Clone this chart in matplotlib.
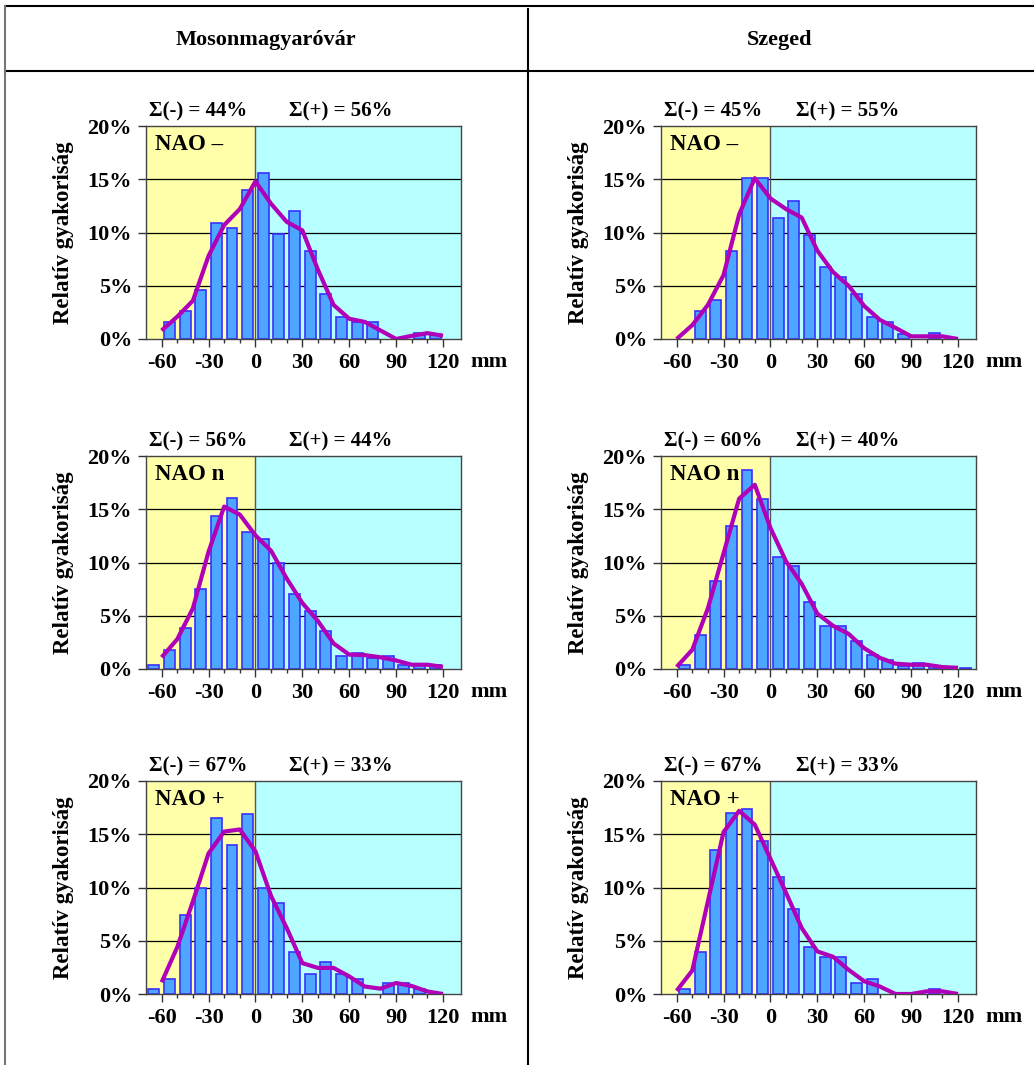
import matplotlib
matplotlib.use('Agg')
import matplotlib.pyplot as plt
from matplotlib.lines import Line2D


# Histogram bins (centre of each 10 mm class) and nodes of the smoothed curve
bin_centres = [-65, -55, -45, -35, -25, -15, -5, 5, 15, 25,
               35, 45, 55, 65, 75, 85, 95, 105, 115, 125]
curve_x = [-60, -50, -40, -30, -20, -10, 0, 10, 20, 30,
           40, 50, 60, 70, 80, 90, 100, 110, 120]

# Relative frequencies (%) - Mosonmagyaróvár
moson_minus_bars = [0, 1.6, 2.65, 4.6, 10.9, 10.4, 14.0, 15.6, 9.9, 12.0,
                    8.3, 4.25, 2.1, 1.6, 1.6, 0, 0, 0.55, 0.5, 0]
moson_minus_curve = [0.8, 2.1, 3.6, 7.8, 10.7, 12.2, 14.8, 12.7, 11.0, 10.2,
                     6.5, 3.2, 1.9, 1.6, 0.8, 0.0, 0.3, 0.55, 0.3]
moson_n_bars = [0.4, 1.75, 3.85, 7.5, 14.4, 16.1, 12.9, 12.2, 10.0, 7.0,
                5.4, 3.6, 1.2, 1.5, 1.05, 1.2, 0.4, 0.4, 0.4, 0]
moson_n_curve = [1.1, 2.8, 5.7, 11.0, 15.25, 14.5, 12.55, 11.1, 8.5, 6.2,
                 4.5, 2.4, 1.35, 1.3, 1.1, 0.8, 0.4, 0.4, 0.2]
moson_plus_bars = [0.47, 1.4, 7.44, 9.97, 16.5, 14.0, 16.9, 9.97, 8.5, 3.9,
                   1.9, 3.0, 1.9, 1.4, 0, 1.03, 1.03, 0.47, 0, 0]
moson_plus_curve = [1.1, 4.4, 8.7, 13.2, 15.25, 15.45, 13.4, 9.2, 6.2, 2.9,
                    2.45, 2.45, 1.65, 0.7, 0.5, 1.03, 0.75, 0.24, 0.0]

# Relative frequencies (%) - Szeged
szeged_minus_bars = [0, 0, 2.6, 3.7, 8.3, 15.1, 15.1, 11.4, 13.0, 9.8,
                     6.8, 5.8, 4.2, 2.1, 1.6, 0.5, 0, 0.55, 0, 0]
szeged_minus_curve = [0.0, 1.3, 3.2, 6.0, 11.7, 15.1, 13.2, 12.2, 11.4, 8.3,
                      6.3, 5.0, 3.1, 1.8, 1.05, 0.25, 0.25, 0.25, 0.0]
szeged_n_bars = [0, 0.4, 3.15, 8.3, 13.4, 18.65, 16.0, 10.5, 9.7, 6.3,
                 4.06, 4.06, 2.6, 1.3, 0.8, 0.25, 0.53, 0.25, 0.1, 0.12]
szeged_n_curve = [0.2, 1.8, 5.7, 10.85, 16.0, 17.3, 13.25, 10.1, 8.0, 5.2,
                  4.06, 3.3, 1.95, 1.05, 0.5, 0.4, 0.4, 0.18, 0.11]
szeged_plus_bars = [0, 0.5, 3.94, 13.5, 16.97, 17.4, 14.4, 11.0, 8.0, 4.44,
                    3.5, 3.5, 1.03, 1.4, 0, 0, 0, 0.5, 0, 0]
szeged_plus_curve = [0.3, 2.2, 8.7, 15.2, 17.2, 15.9, 12.7, 9.5, 6.2, 4.0,
                     3.5, 2.27, 1.2, 0.7, 0.0, 0.0, 0.25, 0.25, 0.0]

stations = ['Mosonmagyaróvár', 'Szeged']
phases = ['NAO –', 'NAO n', 'NAO +']
sum_minus = [[44, 56, 67], [45, 60, 67]]
sum_plus = [[56, 44, 33], [55, 40, 33]]
bars = [[moson_minus_bars, moson_n_bars, moson_plus_bars],
        [szeged_minus_bars, szeged_n_bars, szeged_plus_bars]]
curves = [[moson_minus_curve, moson_n_curve, moson_plus_curve],
          [szeged_minus_curve, szeged_n_curve, szeged_plus_curve]]

y_ticks = [0, 5, 10, 15, 20]
x_ticks = [-60, -30, 0, 30, 60, 90, 120]
x_minor = [-50, -40, -20, -10, 10, 20, 40, 50, 70, 80, 100, 110]

W, H = 1034, 1065
FONT = ['Liberation Serif', 'DejaVu Serif']


def add_axes_px(fig, left, top, width, height):
    return fig.add_axes([left / W, 1 - (top + height) / H, width / W, height / H])


def draw_panel(ax, col, row):
    ax.set_xlim(-70, 131.5)
    ax.set_ylim(0, 20)

    # dry / wet halves
    ax.axvspan(-70, 0, color='#ffffaa', zorder=0, lw=0)
    ax.axvspan(0, 131.5, color='#b8ffff', zorder=0, lw=0)
    for y in y_ticks[1:-1]:
        ax.axhline(y, color='black', lw=0.9, zorder=1)
    ax.axvline(0, color='#555555', lw=1.0, zorder=1)

    xs = [x for x, v in zip(bin_centres, bars[col][row]) if v > 0]
    hs = [v for v in bars[col][row] if v > 0]
    ax.bar(xs, hs, width=7, color='#4da6ff', edgecolor='#3a30ff',
           linewidth=1.2, zorder=2)
    ax.plot(curve_x, curves[col][row], color='#b000b8', lw=3.0,
            zorder=3, solid_joinstyle='round', solid_capstyle='butt')

    for s in ax.spines.values():
        s.set_color('#444444')
        s.set_linewidth(1.0)

    ax.set_yticks(y_ticks)
    ax.set_yticklabels([f'{t}%' for t in y_ticks])
    ax.set_xticks(x_ticks)
    ax.set_xticklabels([str(t) for t in x_ticks])
    ax.set_xticks(x_minor, minor=True)
    ax.tick_params(axis='both', which='major', length=6, width=1,
                   color='#333333', labelsize=16, pad=4)
    ax.tick_params(axis='x', which='minor', length=3, width=1, color='#333333')
    for lab in ax.get_xticklabels() + ax.get_yticklabels():
        lab.set_fontweight('bold')
        lab.set_family(FONT)

    ax.text(137.5, -0.108, 'mm', transform=ax.get_xaxis_transform(),
            ha='left', va='center', fontsize=16, fontweight='bold', family=FONT)
    ax.text(0.03, 0.915, phases[row], transform=ax.transAxes, ha='left',
            va='center', fontsize=16.5, fontweight='bold', family=FONT)

    plus_x = 0.455 if col == 0 else 0.43
    ax.text(0.01, 1.07, f'Σ(-) = {sum_minus[col][row]}%', transform=ax.transAxes,
            ha='left', va='center', fontsize=15, fontweight='bold', family=FONT)
    ax.text(plus_x, 1.07, f'Σ(+) = {sum_plus[col][row]}%', transform=ax.transAxes,
            ha='left', va='center', fontsize=15, fontweight='bold', family=FONT)

    ax.set_ylabel('Relatív gyakoriság', fontsize=16.5, fontweight='bold',
                  family=FONT, labelpad=10)


def main():
    fig = plt.figure(figsize=(W / 100, H / 100), dpi=100)
    fig.patch.set_facecolor('white')

    # table frame around the panels
    frame = dict(color='black', lw=1.5, transform=fig.transFigure)
    fig.add_artist(Line2D([5 / W, 1], [1 - 6 / H, 1 - 6 / H], **frame))
    fig.add_artist(Line2D([5 / W, 1], [1 - 71 / H, 1 - 71 / H], **frame))
    fig.add_artist(Line2D([527.5 / W, 527.5 / W], [1 - 9 / H, 0], **frame))
    fig.add_artist(Line2D([5 / W, 5 / W], [1 - 6 / H, 0], color='#777777',
                          lw=1.5, transform=fig.transFigure))

    fig.text(266 / W, 1 - 40 / H, stations[0], ha='center', va='center',
             fontsize=16, fontweight='bold', family=FONT)
    fig.text(780 / W, 1 - 40 / H, stations[1], ha='center', va='center',
             fontsize=16, fontweight='bold', family=FONT)

    lefts = [146, 661]
    tops = [126, 456, 781]
    for col in range(2):
        for row in range(3):
            ax = add_axes_px(fig, lefts[col], tops[row], 315, 213)
            draw_panel(ax, col, row)

    fig.savefig('out.png', dpi=100)


if __name__ == '__main__':
    main()
